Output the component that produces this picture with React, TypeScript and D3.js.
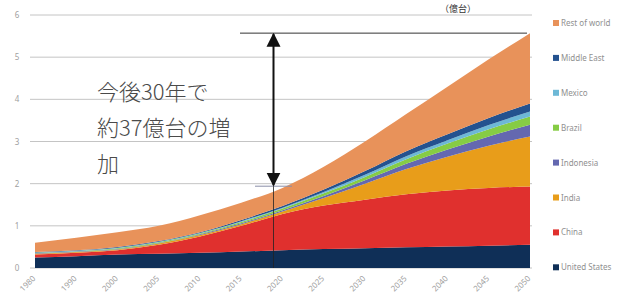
import React from "react";
import * as d3 from "d3";

const years = ["1980", "1990", "2000", "2005", "2010", "2015", "2020", "2025", "2030", "2035", "2040", "2045", "2050"];
const unitedStates = [0.25, 0.28, 0.32, 0.34, 0.36, 0.39, 0.42, 0.45, 0.47, 0.49, 0.51, 0.53, 0.55];
const china = [0.07, 0.08, 0.1, 0.21, 0.39, 0.61, 0.86, 1.03, 1.15, 1.26, 1.33, 1.37, 1.38];
const india = [0.02, 0.02, 0.02, 0.03, 0.03, 0.04, 0.06, 0.18, 0.38, 0.6, 0.8, 1.0, 1.19];
const indonesia = [0.01, 0.01, 0.01, 0.01, 0.02, 0.02, 0.03, 0.05, 0.08, 0.12, 0.17, 0.22, 0.28];
const brazil = [0.01, 0.01, 0.02, 0.02, 0.02, 0.03, 0.04, 0.06, 0.08, 0.11, 0.14, 0.17, 0.19];
const mexico = [0.01, 0.01, 0.01, 0.01, 0.01, 0.02, 0.02, 0.03, 0.05, 0.07, 0.08, 0.1, 0.12];
const middleEast = [0.01, 0.01, 0.02, 0.02, 0.02, 0.03, 0.04, 0.06, 0.09, 0.12, 0.14, 0.17, 0.19];
const restOfWorld = [0.22, 0.3, 0.35, 0.36, 0.4, 0.41, 0.43, 0.54, 0.7, 0.88, 1.13, 1.39, 1.67];

const seriesNames = ["United States", "China", "India", "Indonesia", "Brazil", "Mexico", "Middle East", "Rest of world"];
const seriesValues = [unitedStates, china, india, indonesia, brazil, mexico, middleEast, restOfWorld];
const seriesColors = ["#0f2f57", "#e0302e", "#e89d1a", "#6468b0", "#86cc45", "#6db8d6", "#24528f", "#e8925a"];
const yTicks = [0, 1, 2, 3, 4, 5, 6];
const annotationLines = ["今後30年で", "約37億台の増", "加"];
const unitLabel = "（億台）";

export default function App() {
  const W = 623, H = 305;
  const x = d3.scalePoint<string>().domain(years).range([35, 530]);
  const y = d3.scaleLinear().domain([0, 6]).range([268, 15]);

  const table = years.map((yr, i) => {
    const row: any = { year: yr };
    seriesNames.forEach((n, s) => (row[n] = seriesValues[s][i]));
    return row;
  });
  const stack = d3.stack<any>().keys(seriesNames)(table);
  const area = d3
    .area<any>()
    .x((d) => x(d.data.year) as number)
    .y0((d) => y(d[0]))
    .y1((d) => y(d[1]))
    .curve(d3.curveMonotoneX);

  const totals = table.map((r) => seriesNames.reduce((a, n) => a + r[n], 0));
  const arrowX = (x("2020") as number) - 9;
  const topY = y(totals[totals.length - 1]);

  return (
    <svg width={W} height={H} style={{ position: "absolute", left: 0, top: 0, background: "#fff" }}
      fontFamily="'Noto Sans', 'Noto Sans CJK JP', sans-serif">
      <defs>
        <marker id="ah" viewBox="0 0 10 10" refX="9" refY="5" markerWidth="7" markerHeight="8" orient="auto-start-reverse">
          <path d="M0,0 L10,5 L0,10 z" fill="#111" />
        </marker>
      </defs>
      <text x={440} y={12} fontSize={9} fill="#333" fontFamily="'Noto Sans CJK JP'">{unitLabel}</text>
      {yTicks.map((t) => (
        <g key={t}>
          <line x1={30} x2={532} y1={y(t)} y2={y(t)} stroke="#c4c4c4" strokeWidth={1} />
          <text x={17} y={y(t) + 3} fontSize={8} fill="#a0a0a0" textAnchor="middle">{t}</text>
        </g>
      ))}
      {stack.map((s, i) => (
        <path key={seriesNames[i]} d={area(s) as string} fill={seriesColors[i]} />
      ))}
      {years.map((yr) => (
        <text key={yr} transform={`translate(${(x(yr) as number) + 1},279) rotate(-45)`} fontSize={8}
          fill="#a0a0a0" textAnchor="end">{yr}</text>
      ))}
      <line x1={240} x2={527} y1={topY} y2={topY} stroke="#333" strokeWidth={1} />
      <line x1={255} x2={292} y1={y(1.94)} y2={y(1.94)} stroke="#8a8fa8" strokeWidth={1} />
      <line x1={arrowX} x2={arrowX} y1={y(1.94)} y2={y(0)} stroke="#222" strokeWidth={0.8} />
      <line x1={arrowX} x2={arrowX} y1={topY + 1} y2={y(1.94) - 1} stroke="#111" strokeWidth={2}
        markerStart="url(#ah)" markerEnd="url(#ah)" />
      {annotationLines.map((l, i) => (
        <text key={i} x={97} y={100 + i * 36} fontSize={22} fill="#4a4a4a" fontFamily="'Noto Sans CJK JP'" fontWeight={300}>{l}</text>
      ))}
      {seriesNames.slice().reverse().map((n, i) => {
        const c = seriesColors[seriesNames.length - 1 - i];
        const cy = 23 + i * 34.9;
        return (
          <g key={n}>
            <rect x={553} y={cy - 3} width={6} height={6} fill={c} />
            <text x={561} y={cy + 3} fontSize={8} fill="#909090">{n}</text>
          </g>
        );
      })}
    </svg>
  );
}
